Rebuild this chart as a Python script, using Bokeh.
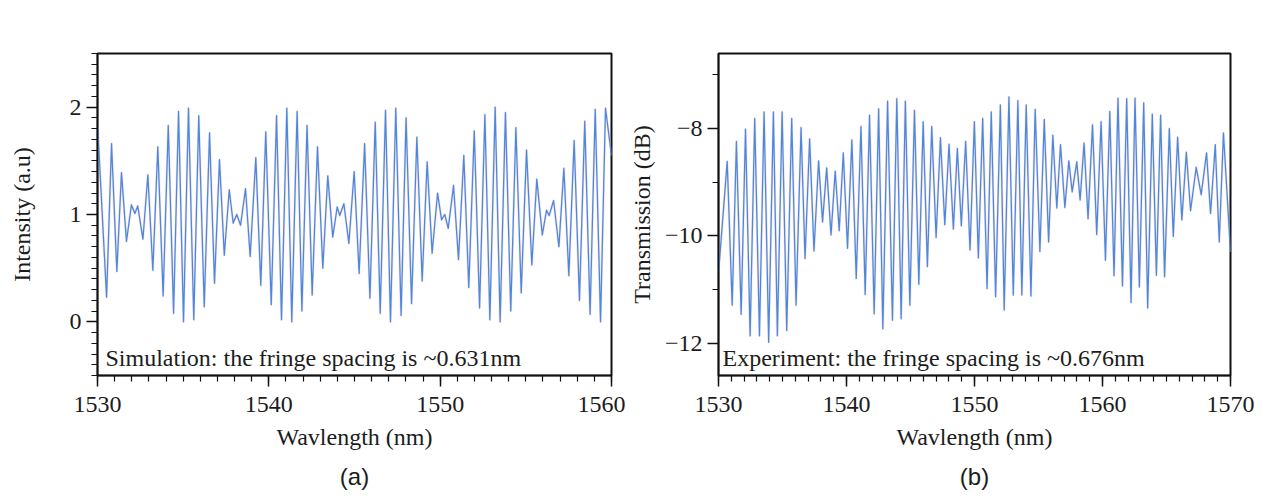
from bokeh.plotting import figure
from bokeh.layouts import row
from bokeh.models import Range1d, FixedTicker, Label, Title
from bokeh.embed import file_html
from bokeh.resources import INLINE

# ---------------- data (fringe extrema) ----------------
wl_a = [1530.00, 1530.53, 1530.82, 1531.13, 1531.40, 1531.69, 1531.98, 1532.18, 1532.35, 1532.65,
        1532.94, 1533.23, 1533.52, 1533.83, 1534.13, 1534.44, 1534.73, 1535.02, 1535.31, 1535.62,
        1535.91, 1536.23, 1536.54, 1536.83, 1537.12, 1537.40, 1537.69, 1537.92, 1538.13, 1538.35,
        1538.64, 1538.91, 1539.24, 1539.53, 1539.82, 1540.14, 1540.45, 1540.74, 1541.05, 1541.34,
        1541.65, 1541.93, 1542.23, 1542.53, 1542.84, 1543.15, 1543.44, 1543.73, 1543.99, 1544.14,
        1544.38, 1544.67, 1544.98, 1545.27, 1545.59, 1545.90, 1546.21, 1546.50, 1546.81, 1547.10,
        1547.41, 1547.72, 1548.01, 1548.33, 1548.64, 1548.95, 1549.24, 1549.53, 1549.85, 1550.08,
        1550.27, 1550.47, 1550.78, 1551.07, 1551.38, 1551.67, 1551.99, 1552.30, 1552.61, 1552.90,
        1553.21, 1553.50, 1553.81, 1554.12, 1554.42, 1554.73, 1555.04, 1555.35, 1555.64, 1555.96,
        1556.21, 1556.36, 1556.62, 1556.93, 1557.22, 1557.51, 1557.82, 1558.13, 1558.44, 1558.75,
        1559.05, 1559.36, 1559.65, 1560.00]
int_a = [1.85, 0.23, 1.66, 0.47, 1.39, 0.75, 1.09, 1.01, 1.08, 0.77,
         1.37, 0.48, 1.63, 0.24, 1.83, 0.08, 1.96, 0.00, 1.99, 0.02,
         1.92, 0.14, 1.76, 0.36, 1.51, 0.62, 1.23, 0.92, 1.00, 0.90,
         1.24, 0.61, 1.53, 0.34, 1.77, 0.16, 1.92, 0.02, 1.99, 0.00,
         1.96, 0.10, 1.83, 0.25, 1.63, 0.50, 1.36, 0.79, 1.07, 0.99,
         1.10, 0.73, 1.40, 0.45, 1.66, 0.22, 1.86, 0.08, 1.97, 0.00,
         1.99, 0.06, 1.90, 0.17, 1.72, 0.38, 1.49, 0.64, 1.20, 0.95,
         1.00, 0.87, 1.27, 0.58, 1.55, 0.32, 1.78, 0.13, 1.93, 0.02,
         2.00, 0.00, 1.95, 0.10, 1.81, 0.27, 1.60, 0.53, 1.33, 0.81,
         1.04, 0.99, 1.13, 0.70, 1.43, 0.43, 1.69, 0.20, 1.87, 0.07,
         1.98, 0.00, 1.99, 1.55]

wl_b = [1530.00, 1530.68, 1531.07, 1531.40, 1531.77, 1532.11, 1532.47, 1532.83, 1533.20, 1533.56,
        1533.92, 1534.29, 1534.60, 1534.97, 1535.33, 1535.72, 1536.06, 1536.45, 1536.76, 1537.12,
        1537.46, 1537.82, 1538.13, 1538.45, 1538.79, 1539.12, 1539.43, 1539.75, 1540.08, 1540.42,
        1540.76, 1541.13, 1541.46, 1541.80, 1542.16, 1542.51, 1542.84, 1543.21, 1543.59, 1543.93,
        1544.27, 1544.60, 1544.95, 1545.31, 1545.65, 1545.99, 1546.32, 1546.66, 1547.00, 1547.34,
        1547.68, 1548.01, 1548.35, 1548.66, 1548.97, 1549.31, 1549.65, 1549.99, 1550.30, 1550.64,
        1550.98, 1551.31, 1551.65, 1552.02, 1552.32, 1552.69, 1553.03, 1553.39, 1553.70, 1554.04,
        1554.41, 1554.74, 1555.11, 1555.45, 1555.79, 1556.12, 1556.43, 1556.72, 1557.06, 1557.37,
        1557.63, 1557.99, 1558.25, 1558.56, 1558.87, 1559.22, 1559.55, 1559.89, 1560.23, 1560.57,
        1560.90, 1561.21, 1561.56, 1561.89, 1562.23, 1562.54, 1562.88, 1563.22, 1563.53, 1563.89,
        1564.21, 1564.54, 1564.85, 1565.22, 1565.53, 1565.87, 1566.20, 1566.55, 1566.88, 1567.32,
        1567.71, 1568.13, 1568.44, 1568.81, 1569.12, 1569.45, 1570.00]
tr_b = [-10.70, -8.61, -11.29, -8.24, -11.46, -8.01, -11.86, -7.81, -11.86, -7.69,
        -11.98, -7.69, -11.86, -7.69, -11.76, -7.81, -11.29, -7.98, -10.42, -8.19,
        -10.28, -8.60, -9.74, -8.73, -9.98, -8.79, -9.90, -8.45, -10.23, -8.21,
        -10.79, -7.96, -11.09, -7.75, -11.45, -7.63, -11.73, -7.49, -11.57, -7.44,
        -11.54, -7.49, -11.29, -7.66, -10.90, -7.87, -10.57, -7.96, -10.03, -8.17,
        -9.79, -8.29, -9.87, -8.37, -9.81, -8.24, -10.26, -7.87, -10.41, -7.81,
        -10.98, -7.69, -11.13, -7.56, -11.38, -7.41, -11.10, -7.48, -11.10, -7.56,
        -11.12, -7.64, -10.29, -7.83, -10.11, -8.12, -9.48, -8.30, -9.47, -8.60,
        -9.18, -8.62, -9.33, -8.27, -9.68, -7.93, -9.97, -7.87, -10.45, -7.68,
        -10.74, -7.43, -10.93, -7.44, -11.24, -7.43, -10.95, -7.52, -11.34, -7.73,
        -10.73, -7.75, -10.76, -8.00, -10.01, -8.16, -9.70, -8.44, -9.53, -8.72,
        -9.23, -8.45, -9.58, -8.30, -10.11, -8.08, -10.30]

xticks_a = [1530, 1540, 1550, 1560]
yticks_a = [0, 1, 2]
xticks_b = [1530, 1540, 1550, 1560, 1570]
yticks_b = [-12, -10, -8]
ytick_labels_b = ["\u221212", "\u221210", "\u22128"]

note_a = "Simulation: the fringe spacing is ~0.631nm"
note_b = "Experiment: the fringe spacing is ~0.676nm"
panel_a = "(a)"
panel_b = "(b)"
xlabel = "Wavlength (nm)"
ylabel_a = "Intensity (a.u)"
ylabel_b = "Transmission (dB)"

SERIF = "Liberation Serif"
TXT = "#1c1c1c"
FS = "24px"


def style(p, ylabel, y_standoff, panel):
    p.background_fill_color = "white"
    p.border_fill_color = "white"
    p.outline_line_color = "#111111"
    p.outline_line_width = 2
    p.grid.visible = False
    for ax in (p.xaxis[0], p.yaxis[0]):
        ax.axis_line_color = "#111111"
        ax.axis_line_width = 1.5
        ax.major_tick_line_color = "#111111"
        ax.minor_tick_line_color = "#111111"
        ax.major_tick_line_width = 1.5
        ax.minor_tick_line_width = 1.2
        ax.major_tick_out = 11
        ax.major_tick_in = 0
        ax.minor_tick_out = 6
        ax.minor_tick_in = 0
        ax.major_label_text_font = SERIF
        ax.major_label_text_font_size = FS
        ax.major_label_text_color = TXT
        ax.axis_label_text_font = SERIF
        ax.axis_label_text_font_size = FS
        ax.axis_label_text_font_style = "normal"
        ax.axis_label_text_color = TXT
    p.xaxis[0].axis_label = xlabel
    p.xaxis[0].major_label_standoff = 10
    p.xaxis[0].axis_label_standoff = 9
    p.yaxis[0].axis_label = ylabel
    p.yaxis[0].major_label_standoff = 5
    p.yaxis[0].axis_label_standoff = y_standoff
    t = Title(text=panel, align="center", text_font="Liberation Sans",
              text_font_size=FS, text_font_style="normal", text_color=TXT, standoff=16)
    p.add_layout(t, "below")


def draw(p, xs, ys):
    p.line(xs, ys, line_color="#f2a0b4", line_width=2.6, line_alpha=0.28, line_join="round")
    p.line(xs, ys, line_color="#4a8ade", line_width=1.3, line_join="round")


# ---------------- panel (a) ----------------
pa = figure(width=625, height=500, output_backend="svg", toolbar_location=None,
            x_range=Range1d(1530, 1560), y_range=Range1d(-0.5, 2.5),
            min_border_left=97, min_border_right=14, min_border_top=53, min_border_bottom=125)
pa.xaxis[0].ticker = FixedTicker(ticks=xticks_a, minor_ticks=list(range(1530, 1561)))
pa.yaxis[0].ticker = FixedTicker(ticks=yticks_a,
                                 minor_ticks=[round(-0.5 + 0.1 * i, 1) for i in range(31)])
style(pa, ylabel_a, 32, panel_a)
draw(pa, wl_a, int_a)
pa.add_layout(Label(x=1530, y=-0.5, x_offset=8, y_offset=18, text=note_a,
                    text_font=SERIF, text_font_size=FS, text_color=TXT,
                    text_baseline="middle", text_align="left"))

# ---------------- panel (b) ----------------
pb = figure(width=634, height=500, output_backend="svg", toolbar_location=None,
            x_range=Range1d(1530, 1570), y_range=Range1d(-12.6, -6.6),
            min_border_left=92, min_border_right=29, min_border_top=53, min_border_bottom=125)
pb.xaxis[0].ticker = FixedTicker(ticks=xticks_b, minor_ticks=list(range(1530, 1571)))
pb.yaxis[0].ticker = FixedTicker(ticks=yticks_b, minor_ticks=[-11, -9, -7])
pb.yaxis[0].major_label_overrides = {t: s for t, s in zip(yticks_b, ytick_labels_b)}
style(pb, ylabel_b, 7, panel_b)
draw(pb, wl_b, tr_b)
pb.add_layout(Label(x=1530, y=-12.6, x_offset=4, y_offset=18, text=note_b,
                    text_font=SERIF, text_font_size=FS, text_color=TXT,
                    text_baseline="middle", text_align="left"))

layout = row(pa, pb)
open("out.html", "w").write(file_html(layout, INLINE))
